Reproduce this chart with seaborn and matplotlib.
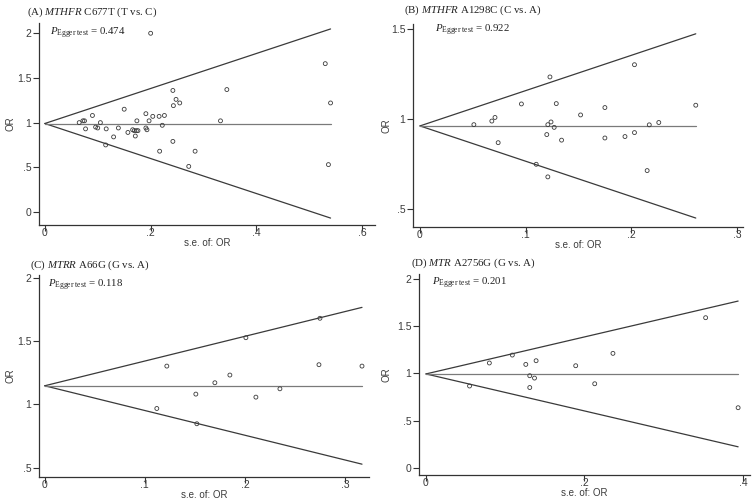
import numpy as np
import pandas as pd
import matplotlib
matplotlib.use("Agg")
import matplotlib.pyplot as plt
import seaborn as sns

# ---------------- data ----------------
# Panel A: MTHFR C677T (T vs. C)
a_se = [0.065, 0.072, 0.075, 0.077, 0.090, 0.096, 0.100, 0.105, 0.115, 0.116,
        0.130, 0.139, 0.150, 0.157, 0.166, 0.169, 0.173, 0.176, 0.171, 0.174,
        0.191, 0.191, 0.193, 0.197, 0.200, 0.204, 0.216, 0.217, 0.222, 0.226,
        0.242, 0.242, 0.243, 0.248, 0.255, 0.272, 0.284, 0.332, 0.344, 0.530,
        0.536, 0.540]
a_or = [1.00, 1.02, 1.02, 0.93, 1.08, 0.95, 0.94, 1.00, 0.75, 0.93,
        0.84, 0.94, 1.15, 0.89, 0.92, 0.91, 0.91, 0.91, 0.85, 1.02,
        1.10, 0.94, 0.92, 1.02, 2.00, 1.07, 1.07, 0.68, 0.97, 1.08,
        1.36, 0.79, 1.19, 1.26, 1.22, 0.51, 0.68, 1.02, 1.37, 1.66,
        0.53, 1.22]
# Panel B: MTHFR A1298C (C vs. A)
b_se = [0.051, 0.068, 0.071, 0.074, 0.096, 0.110, 0.120, 0.121, 0.121, 0.123,
        0.124, 0.127, 0.129, 0.134, 0.152, 0.175, 0.175, 0.194, 0.203, 0.203,
        0.215, 0.217, 0.226, 0.261]
b_or = [0.970, 0.990, 1.010, 0.870, 1.085, 0.750, 0.915, 0.970, 0.680, 1.235,
        0.985, 0.955, 1.087, 0.884, 1.024, 1.065, 0.896, 0.904, 1.303, 0.926,
        0.715, 0.969, 0.982, 1.078]
# Panel C: MTRR A66G (G vs. A)
c_se = [0.112, 0.122, 0.151, 0.152, 0.170, 0.185, 0.201, 0.211, 0.235, 0.275,
        0.274, 0.317]
c_or = [0.968, 1.304, 1.082, 0.847, 1.172, 1.233, 1.529, 1.058, 1.124, 1.683,
        1.315, 1.304]
# Panel D: MTR A2756G (G vs. A)
d_se = [0.055, 0.080, 0.109, 0.126, 0.131, 0.131, 0.137, 0.139, 0.189, 0.213,
        0.236, 0.353, 0.394]
d_or = [0.866, 1.110, 1.194, 1.095, 0.975, 0.850, 0.950, 1.134, 1.081, 0.890,
        1.212, 1.590, 0.636]

pooled = [0.99, 0.963, 1.148, 0.994]
labels = ["(A)", "(B)", "(C)", "(D)"]
genes = ["MTHFR", "MTHFR", "MTRR", "MTR"]
variants = ["C677T (T vs. C)", "A1298C (C vs. A)", "A66G (G vs. A)", "A2756G (G vs. A)"]
egger_p = ["0.474", "0.922", "0.118", "0.201"]
xticks = [[0, 0.2, 0.4, 0.6], [0, 0.1, 0.2, 0.3], [0, 0.1, 0.2, 0.3], [0, 0.2, 0.4]]
yticks = [[0, 0.5, 1, 1.5, 2], [0.5, 1, 1.5], [0.5, 1, 1.5, 2], [0, 0.5, 1, 1.5, 2]]
xlims = [(-0.011, 0.624), (-0.0066, 0.3057), (-0.0057, 0.324), (-0.0088, 0.409)]
ylims = [(-0.146, 2.115), (0.4017, 1.529), (0.425, 2.026), (-0.077, 2.053)]

ses = [a_se, b_se, c_se, d_se]
ors = [a_or, b_or, c_or, d_or]

# ---------------- style ----------------
sns.set_style("white")
plt.rcParams["font.family"] = ["Liberation Sans", "DejaVu Sans"]
plt.rcParams["mathtext.fontset"] = "custom"
plt.rcParams["mathtext.rm"] = "Liberation Serif"
plt.rcParams["mathtext.it"] = "Liberation Serif:italic"
plt.rcParams["mathtext.bf"] = "Liberation Serif:bold"

W, H = 754, 499
fig = plt.figure(figsize=(W / 100, H / 100), dpi=100)

# pixel boxes: left, right, top, bottom
boxes = [(39, 375, 23, 225), (413, 743, 24, 227), (39, 369, 275, 477), (419, 750, 274, 475)]
title_pos = [(27, 12), (404, 10), (30, 265), (411, 263)]
p_pos = [(50, 33), (435, 30), (48, 285), (432, 283)]
ylab_x = [10, 387, 10, 387]

def fmt(v):
    s = ("%g" % v)
    if s.startswith("0."):
        s = s[1:]
    return s

line_dark = "#3a3a3a"
line_mid = "#7a7a7a"
txt = "#3c3c3c"

for i in range(4):
    l, r, t, b = boxes[i]
    ax = fig.add_axes([l / W, 1 - b / H, (r - l) / W, (b - t) / H])
    se = np.array(ses[i])
    orv = np.array(ors[i])
    df = pd.DataFrame({"se": se, "OR": orv})
    semax = se.max()
    th = pooled[i]
    lines = pd.DataFrame({
        "x": [0, semax, 0, semax, 0, semax],
        "y": [th, th + 1.96 * semax, th, th - 1.96 * semax, th, th],
        "g": ["u", "u", "l", "l", "c", "c"],
    })
    for g, col in [("u", line_dark), ("l", line_dark), ("c", line_mid)]:
        sub = lines[lines.g == g]
        sns.lineplot(data=sub, x="x", y="y", ax=ax, color=col, lw=0.9,
                     estimator=None, sort=False, legend=False)
    sns.scatterplot(data=df, x="se", y="OR", ax=ax, marker="o", s=8,
                    facecolor="none", edgecolor="#3a3a3a", linewidth=0.6,
                    legend=False, zorder=3)
    ax.set_xlim(*xlims[i])
    ax.set_ylim(*ylims[i])
    ax.set_xticks(xticks[i])
    ax.set_xticklabels([fmt(v) for v in xticks[i]])
    ax.set_yticks(yticks[i])
    ax.set_yticklabels([fmt(v) for v in yticks[i]])
    for sp in ["top", "right"]:
        ax.spines[sp].set_visible(False)
    for sp in ["left", "bottom"]:
        ax.spines[sp].set_color("#333333")
        ax.spines[sp].set_linewidth(0.9)
    ax.tick_params(axis="both", which="major", direction="out", length=4, width=0.8,
                   color="#333333", labelsize=7.5, labelcolor=txt,
                   bottom=True, left=True)
    ax.tick_params(axis="x", pad=-1.5)
    ax.tick_params(axis="y", pad=1.5)
    ax.set_xlabel("s.e. of: OR", fontsize=7, color=txt, labelpad=-0.5)
    ax.set_ylabel("OR", fontsize=7, color=txt)
    ax.yaxis.set_label_coords((ylab_x[i] - l) / (r - l), 0.5)
    ax.yaxis.label.set_va("center")
    ax.grid(False)

    tx, ty = title_pos[i]
    fig.text(tx / W, 1 - ty / H,
             labels[i] + " $\\mathit{" + genes[i] + "}$ " + variants[i],
             family=["Liberation Serif"], fontsize=7.8, color="#222222",
             ha="left", va="center")
    px, py = p_pos[i]
    fig.text(px / W, 1 - py / H,
             "$\\mathit{P}_{\\mathrm{Egger\\ test}}$ = " + egger_p[i],
             family=["Liberation Serif"], fontsize=7.8, color="#222222",
             ha="left", va="center")

fig.savefig("out.png", dpi=100)
